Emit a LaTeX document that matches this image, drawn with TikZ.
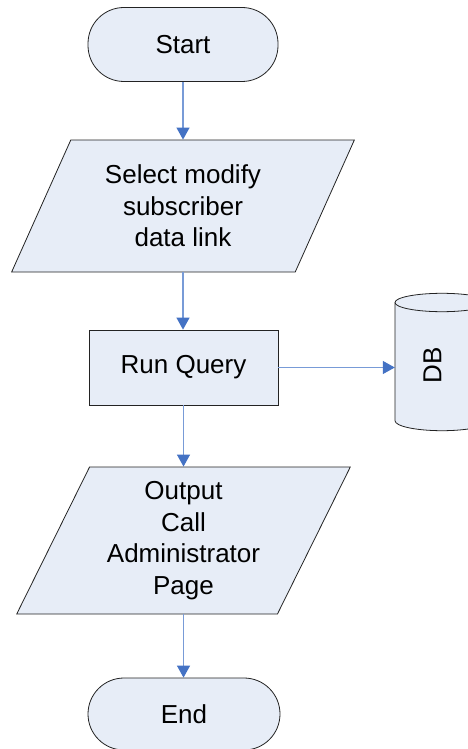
\documentclass[tikz,border=0pt]{standalone}
\usepackage{fontspec}
\setmainfont{Liberation Sans}
\usetikzlibrary{shapes.geometric,arrows.meta}

\definecolor{boxfill}{RGB}{231,237,247}
\definecolor{flowline}{RGB}{120,155,215}
\definecolor{flowtip}{RGB}{68,114,196}
\definecolor{edgeline}{RGB}{35,35,35}

\tikzset{
  shapebase/.style={draw=edgeline, line width=0.8pt, fill=boxfill,
    font=\fontsize{26}{31.5}\selectfont, align=center, inner sep=0pt},
  terminal/.style={shapebase, rectangle, rounded corners=36pt,
    minimum width=190pt, minimum height=74pt},
  process/.style={shapebase, rectangle, minimum width=189pt, minimum height=75pt},
  io/.style={shapebase, trapezium, trapezium stretches=true},
  flow/.style={draw=flowline, line width=1.2pt,
    -{Triangle[width=13pt,length=12pt,color=flowtip,fill=flowtip]}},
  label/.style={font=\fontsize{26}{31.5}\selectfont, inner sep=0pt}
}

\begin{document}
\begin{tikzpicture}[x=1pt,y=-1pt]
  \useasboundingbox (0,0) rectangle (467,749);

  % flow steps
  \node[terminal] (start) at (183,44.5) {Start};
  \node[io, minimum width=344pt, minimum height=132pt,
        trapezium left angle=63.4, trapezium right angle=116.6]
        (select) at (183,206) {Select modify\\subscriber\\data link};
  \node[process] (query) at (183.5,367.5) {Run Query};
  \node[io, minimum width=335pt, minimum height=147pt,
        trapezium left angle=63.3, trapezium right angle=116.7]
        (output) at (183.5,540.5) {Output\\Call\\Administrator\\Page};
  \node[terminal, minimum width=192pt, minimum height=72pt] (end) at (184,714) {End};

  % database cylinder
  \node[minimum width=94pt, minimum height=118pt, inner sep=0pt] (db) at (442,361.6) {};
  \path[draw=edgeline, line width=0.8pt, fill=boxfill]
    (395,302.5) -- (395,420.7)
    arc[start angle=180, end angle=360, x radius=47pt, y radius=10pt]
    -- (489,302.5)
    arc[start angle=0, end angle=180, x radius=47pt, y radius=9.2pt] -- cycle;
  \draw[edgeline, line width=0.8pt]
    (395,302.5) arc[start angle=180, end angle=360, x radius=47pt, y radius=9.2pt];
  \node[label, rotate=90] (dblabel) at (432.5,365) {DB};

  % connectors
  \draw[flow] (start.south) -- (start.south |- select.north);
  \draw[flow] (select.south) -- (select.south |- query.north);
  \draw[flow] (query.east) -- (query.east -| db.west);
  \draw[flow] (query.south) -- (query.south |- output.north);
  \draw[flow] (output.south) -- (output.south |- end.north);
\end{tikzpicture}
\end{document}
